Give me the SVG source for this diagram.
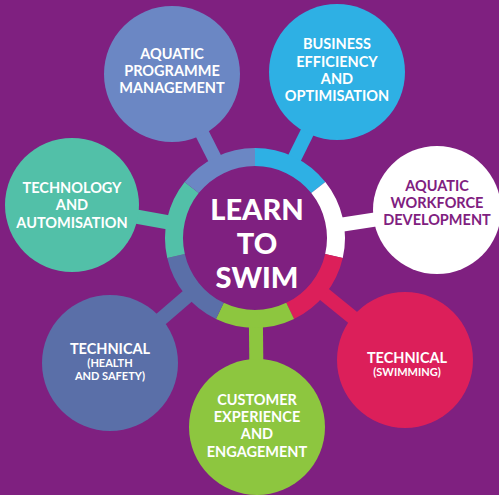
<svg xmlns="http://www.w3.org/2000/svg" width="499" height="495" viewBox="0 0 499 495">
  <style>
    .lbl { font-family: Lato, "Liberation Sans", sans-serif; font-weight: bold; font-size: 14.5px; fill: #ffffff; text-anchor: middle; }
    .sm { font-size: 11px; }
    .dk { fill: #7f2080; }
    .ctr { font-family: Lato, "Liberation Sans", sans-serif; font-weight: 900; font-size: 29px; fill: #ffffff; text-anchor: middle; }
    .seg { fill: none; stroke-width: 18; }
    .stem { stroke-width: 14; stroke-linecap: butt; }
  </style>
  <rect x="0" y="0" width="499" height="495" fill="#7f2080"/>
  <g id="connectors">
    <line class="stem" x1="255" y1="238" x2="172" y2="74" stroke="#6b87c4"/>
    <line class="stem" x1="255" y1="238" x2="337" y2="72" stroke="#2eb0e4"/>
    <line class="stem" x1="255" y1="238" x2="437" y2="210" stroke="#ffffff"/>
    <line class="stem" x1="255" y1="238" x2="405" y2="360" stroke="#dc1f5a"/>
    <line class="stem" x1="255" y1="238" x2="257" y2="427" stroke="#8dc63f"/>
    <line class="stem" x1="255" y1="238" x2="110" y2="363" stroke="#5a6fa8"/>
    <line class="stem" x1="255" y1="238" x2="72" y2="205" stroke="#52c0a8"/>
  </g>
  <g id="center">
    <circle cx="255" cy="238" r="82" fill="#7f2080"/>
    <path class="seg" stroke="#2eb0e4" d="M255,157 A81,81 0 0 1 318.33,187.50"/>
    <path class="seg" stroke="#ffffff" d="M318.33,187.50 A81,81 0 0 1 333.97,256.02"/>
    <path class="seg" stroke="#dc1f5a" d="M333.97,256.02 A81,81 0 0 1 290.14,310.98"/>
    <path class="seg" stroke="#8dc63f" d="M290.14,310.98 A81,81 0 0 1 219.86,310.98"/>
    <path class="seg" stroke="#5a6fa8" d="M219.86,310.98 A81,81 0 0 1 176.03,256.02"/>
    <path class="seg" stroke="#52c0a8" d="M176.03,256.02 A81,81 0 0 1 191.67,187.50"/>
    <path class="seg" stroke="#6b87c4" d="M191.67,187.50 A81,81 0 0 1 255,157"/>
    <text class="ctr" x="257" y="220">LEARN</text>
    <text class="ctr" x="257" y="254">TO</text>
    <text class="ctr" x="257" y="288">SWIM</text>
  </g>
  <g id="apm">
    <circle cx="172" cy="74" r="68" fill="#6b87c4"/>
    <text class="lbl" x="172" y="59">AQUATIC</text>
    <text class="lbl" x="172" y="76">PROGRAMME</text>
    <text class="lbl" x="172" y="93">MANAGEMENT</text>
  </g>
  <g id="beo">
    <circle cx="337" cy="72" r="68" fill="#2eb0e4"/>
    <text class="lbl" x="337" y="49">BUSINESS</text>
    <text class="lbl" x="337" y="67">EFFICIENCY</text>
    <text class="lbl" x="337" y="84">AND</text>
    <text class="lbl" x="337" y="101">OPTIMISATION</text>
  </g>
  <g id="awd">
    <circle cx="437" cy="210" r="64" fill="#ffffff"/>
    <text class="lbl dk" x="437" y="191">AQUATIC</text>
    <text class="lbl dk" x="437" y="208">WORKFORCE</text>
    <text class="lbl dk" x="437" y="225">DEVELOPMENT</text>
  </g>
  <g id="ts">
    <circle cx="405" cy="360" r="68" fill="#dc1f5a"/>
    <text class="lbl" x="407" y="363">TECHNICAL</text>
    <text class="lbl sm" x="407" y="376">(SWIMMING)</text>
  </g>
  <g id="cee">
    <circle cx="257" cy="427" r="68" fill="#8dc63f"/>
    <text class="lbl" x="257" y="405">CUSTOMER</text>
    <text class="lbl" x="257" y="422">EXPERIENCE</text>
    <text class="lbl" x="257" y="439">AND</text>
    <text class="lbl" x="257" y="457">ENGAGEMENT</text>
  </g>
  <g id="ths">
    <circle cx="110" cy="363" r="68" fill="#5a6fa8"/>
    <text class="lbl" x="110" y="354">TECHNICAL</text>
    <text class="lbl sm" x="110" y="367">(HEALTH</text>
    <text class="lbl sm" x="110" y="380">AND SAFETY)</text>
  </g>
  <g id="ta">
    <circle cx="72" cy="205" r="67" fill="#52c0a8"/>
    <text class="lbl" x="72" y="193">TECHNOLOGY</text>
    <text class="lbl" x="72" y="210">AND</text>
    <text class="lbl" x="72" y="228">AUTOMISATION</text>
  </g>
</svg>
